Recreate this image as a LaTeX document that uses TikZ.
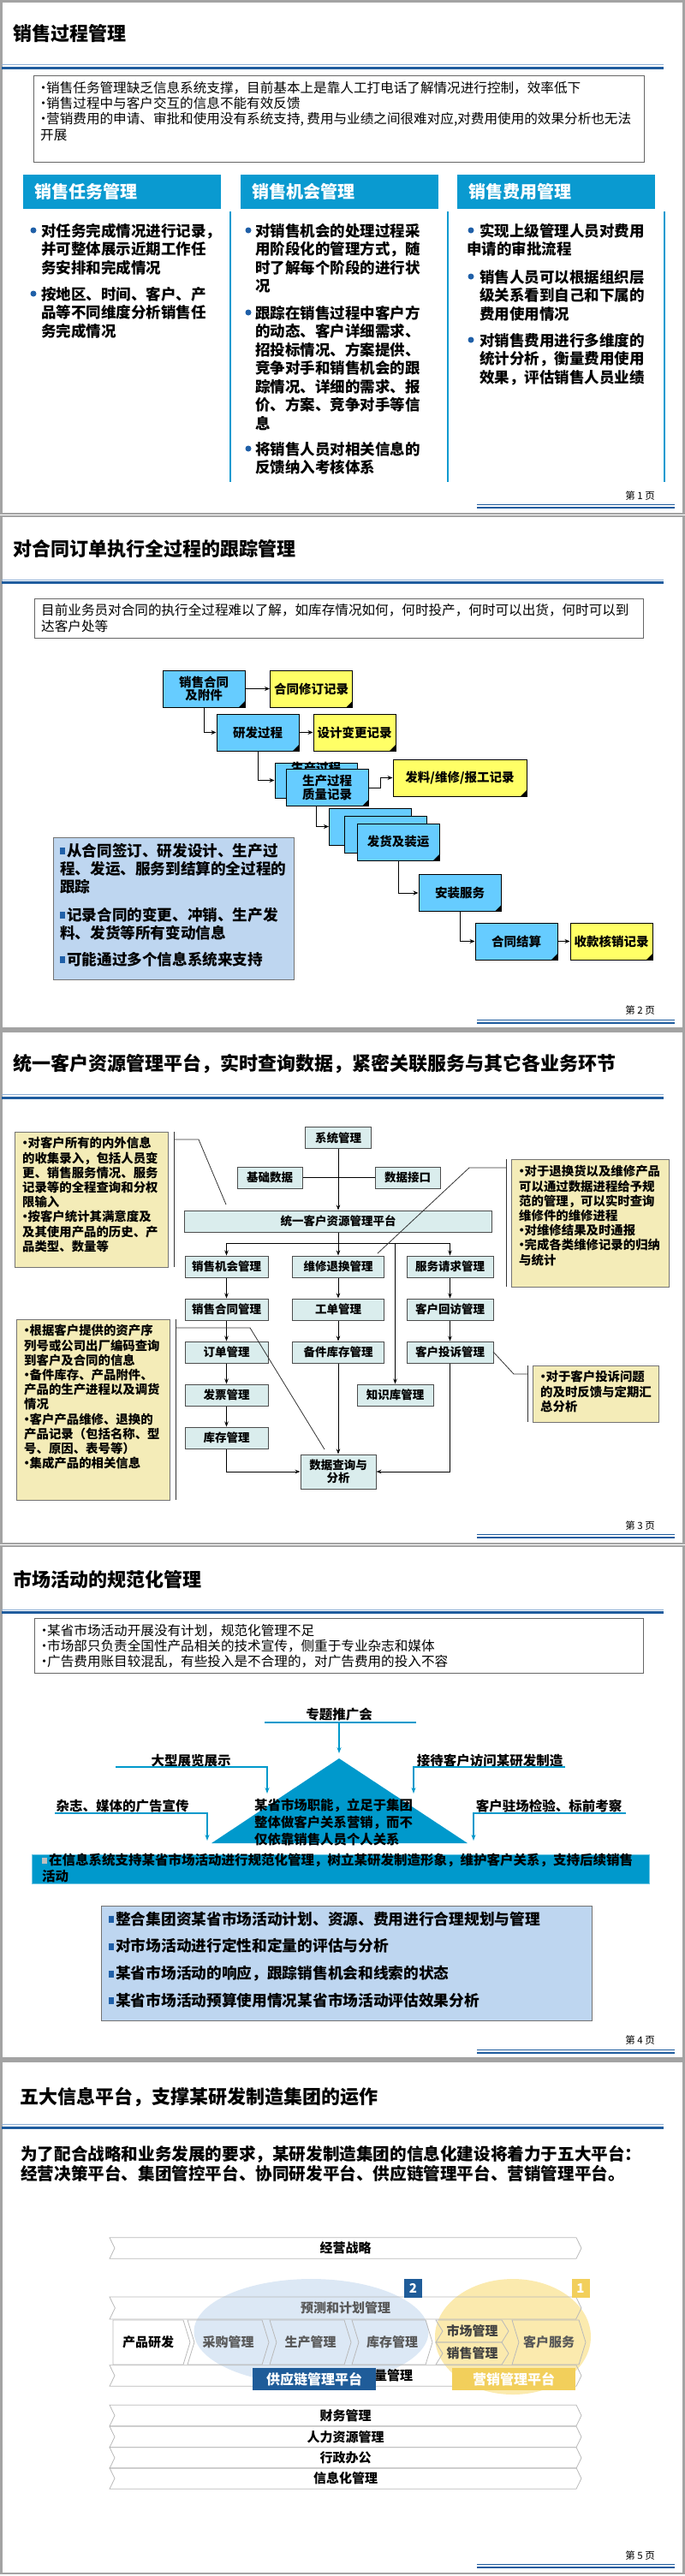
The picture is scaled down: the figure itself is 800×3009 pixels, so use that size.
\documentclass[tikz,border=0pt]{standalone}
\usepackage{fontspec}
\setmainfont{Noto Sans CJK SC}
\usetikzlibrary{arrows.meta, positioning, shapes.symbols}

\definecolor{framegray}{HTML}{A3A3A3}
\definecolor{ruleblue}{HTML}{1F5C9E}
\definecolor{rulelight}{HTML}{8FB0D6}
\definecolor{headblue}{HTML}{0A9AD0}
\definecolor{dotblue}{HTML}{2060A8}
\definecolor{flowblue}{HTML}{66CCFF}
\definecolor{flowyellow}{HTML}{FFFF66}
\definecolor{noteblue}{HTML}{BED6F0}
\definecolor{modteal}{HTML}{DAEDED}
\definecolor{callyellow}{HTML}{F4ECB8}
\definecolor{mktblue}{HTML}{0099CC}
\definecolor{scmblue}{HTML}{1F5C99}
\definecolor{mktyellow}{HTML}{F2CF5B}
\definecolor{ellblue}{HTML}{DCE8F5}
\definecolor{ellyellow}{HTML}{FBEAAE}

\newcommand{\bul}{\makebox[0.45em]{•}}
\newcommand{\sq}{{\color{dotblue}\rule[0.12em]{6pt}{8pt}}\hspace{2pt}}

\begin{document}
\begin{tikzpicture}[x=1pt, y=-1pt,
    slideframe/.style={draw=framegray, line width=2.5pt},
    title/.style={anchor=west, inner sep=0, font=\fontsize{22}{26}\selectfont\bfseries},
    pageno/.style={anchor=east, inner sep=0, font=\fontsize{11.5}{14}\selectfont},
    notebox/.style={draw=black!60, line width=1pt, fill=white},
    notetxt/.style={anchor=north west, align=left, inner sep=0, font=\fontsize{15.6}{18.4}\selectfont},
    cardhead/.style={anchor=north west, fill=headblue, text=white, minimum height=40pt, text width=205pt,
        inner xsep=13pt, inner ysep=0, align=left, font=\fontsize{20}{24}\selectfont\bfseries},
    cardtxt/.style={anchor=north west, align=left, inner sep=0, font=\fontsize{17.5}{21.5}\selectfont\bfseries},
    flowbox/.style={draw=black, line width=1pt, fill=flowblue, minimum width=96pt, minimum height=43pt,
        inner sep=1pt, align=center, font=\fontsize{14.5}{15.5}\selectfont\bfseries,
        path picture={\fill[black] (path picture bounding box.south east) ++(-7,0) -- ++(7,-7) -- ++(0,7) -- cycle;}},
    recbox/.style={flowbox, fill=flowyellow},
    arr/.style={-{Stealth[length=6pt, width=5pt]}, line width=1pt},
    infobox/.style={draw=black!55, line width=1pt, fill=noteblue},
    infotxt/.style={anchor=north west, align=left, inner sep=0, font=\fontsize{17.6}{21}\selectfont\bfseries},
    modbox/.style={draw=black!70, line width=1pt, fill=modteal, minimum height=25pt, inner sep=1pt,
        align=center, font=\fontsize{13.5}{15}\selectfont\bfseries},
    modarr/.style={-{Stealth[length=6pt, width=4.5pt]}, line width=0.8pt},
    callbox/.style={draw=black!55, line width=1pt, fill=callyellow},
    calltxt/.style={anchor=north west, align=left, inner sep=0, font=\fontsize{14.4}{17.2}\selectfont\bfseries},
    callline/.style={black!80, line width=0.8pt},
    mktlabel/.style={inner sep=0, font=\fontsize{15.5}{18}\selectfont\bfseries},
    mktarr/.style={draw=mktblue, line width=1.5pt, -{Stealth[length=7pt, width=5pt]}},
    band/.style={shape=signal, signal to=east, signal from=west, draw=gray!55, line width=0.8pt,
        minimum width=551pt, minimum height=24.5pt, inner sep=0, signal pointer angle=128,
        font=\fontsize{15}{16}\selectfont\bfseries},
    tag/.style={text=white, minimum width=21pt, minimum height=22pt, inner sep=0, font=\fontsize{15}{16}\selectfont\bfseries},
    plat/.style={text=white, minimum width=144pt, minimum height=26pt, inner sep=0, font=\fontsize{16}{18}\selectfont\bfseries}]

\useasboundingbox (0,0) rectangle (800,3009);

% frames, rules and page numbers of the five slides
\foreach \k in {0,...,4}{
  \begin{scope}[yshift={-\k*601.5pt}]
    \pgfmathtruncatemacro{\pg}{\k+1}
    \draw[slideframe] (1.5,1.5) rectangle (798.5,600);
    \draw[rulelight, line width=1pt] (2,75.8) -- (775,75.8);
    \draw[ruleblue, line width=2.8pt] (2,79.3) -- (775,79.3);
    \draw[ruleblue, line width=1pt] (557,589.5) -- (788,589.5);
    \draw[ruleblue, line width=2pt] (557,593) -- (788,593);
    \node[pageno] (page\pg) at (765,579) {第 \pg{} 页};
  \end{scope}
}

% slide 1
\node[title] (t1) at (15,39) {销售过程管理};
\draw[notebox] (39,88) rectangle (752,189);
\node[notetxt] (note1) at (47,94.7) {\bul 销售任务管理缺乏信息系统支撑，目前基本上是靠人工打电话了解情况进行控制，效率低下\\
  \bul 销售过程中与客户交互的信息不能有效反馈\\
  \bul 营销费用的申请、审批和使用没有系统支持, 费用与业绩之间很难对应,对费用使用的效果分析也无法\\
  开展};
\foreach \x/\name [count=\i] in {27/销售任务管理, 281/销售机会管理, 534/销售费用管理}{
  \node[cardhead] (head\i) at (\x,204) {\name};
  \draw[headblue, line width=1.5pt] (\x+242,247) -- (\x+242,563);
}
\foreach \x/\y in {39/269, 39/343, 290/269, 290/365, 290/524, 550/269, 550/323, 550/397}
  \fill[dotblue] (\x,\y) circle (3.5);
\node[cardtxt] (task1) at (48,261) {对任务完成情况进行记录，\\并可整体展示近期工作任\\务安排和完成情况};
\node[cardtxt] (task2) at (48,335) {按地区、时间、客户、产\\品等不同维度分析销售任\\务完成情况};
\node[cardtxt] (opp1) at (298,261) {对销售机会的处理过程采\\用阶段化的管理方式，随\\时了解每个阶段的进行状\\况};
\node[cardtxt] (opp2) at (298,357) {跟踪在销售过程中客户方\\的动态、客户详细需求、\\招投标情况、方案提供、\\竞争对手和销售机会的跟\\踪情况、详细的需求、报\\价、方案、竞争对手等信\\息};
\node[cardtxt] (opp3) at (298,516) {将销售人员对相关信息的\\反馈纳入考核体系};
\node[cardtxt] (cost1) at (545,261) {\hspace*{15pt}实现上级管理人员对费用\\申请的审批流程};
\node[cardtxt] (cost2) at (560,315) {销售人员可以根据组织层\\级关系看到自己和下属的\\费用使用情况};
\node[cardtxt] (cost3) at (560,389) {对销售费用进行多维度的\\统计分析，衡量费用使用\\效果，评估销售人员业绩};

% slide 2
\begin{scope}[yshift=-601.5pt]
  \node[title] (t2) at (15,40) {对合同订单执行全过程的跟踪管理};
  \draw[notebox] (40,97.5) rectangle (751,143.5);
  \node[notetxt] (note2) at (48,104) {目前业务员对合同的执行全过程难以了解，如库存情况如何，何时投产，何时可以出货，何时可以到\\达客户处等};
  \node[flowbox] (contract) at (238,203) {销售合同\\及附件};
  \node[recbox] (revrec) at (363.5,203) {合同修订记录};
  \node[flowbox] (rd) at (301,254) {研发过程};
  \node[recbox] (designrec) at (414,254) {设计变更记录};
  \node[flowbox, minimum height=41pt] (prodback) at (369,310) {\raisebox{9pt}[0pt][0pt]{生产过程}};
  \node[flowbox] (prodfront) at (382,318.5) {生产过程\\质量记录};
  \node[recbox, minimum width=156pt] (issuerec) at (537,307) {发料/维修/报工记录};
  \node[flowbox] (ship1) at (432.5,364) {};
  \node[flowbox] (ship2) at (450,373) {};
  \node[flowbox] (ship3) at (465,382) {发货及装运};
  \node[flowbox] (install) at (537,441.5) {安装服务};
  \node[flowbox] (settle) at (603,498) {合同结算};
  \node[recbox] (payrec) at (714,498) {收款核销记录};
  \draw[arr] (contract) -- (revrec);
  \draw[arr] (contract.south) |- (rd.west);
  \draw[arr] (rd) -- (designrec);
  \draw[arr] (rd.south) |- (prodback.west);
  \draw[arr] (prodfront.east) -- ++(14,0) |- (issuerec.west);
  \draw[arr] (prodback.south |- prodfront.south) |- (ship1.west);
  \draw[arr] (ship3.south) |- (install.west);
  \draw[arr] (install.south) |- (settle.west);
  \draw[arr] (settle) -- (payrec);
  \draw[infobox] (62,376.5) rectangle (343,542.5);
  \node[infotxt] (track) at (70,383.2) {\sq 从合同签订、研发设计、生产过\\程、发运、服务到结算的全过程的\\跟踪\\[12pt]
    \sq 记录合同的变更、冲销、生产发\\料、发货等所有变动信息\\[10pt]
    \sq 可能通过多个信息系统来支持};
\end{scope}

% slide 3
\begin{scope}[yshift=-1203pt]
  \node[title] (t3) at (15,39.5) {统一客户资源管理平台，实时查询数据，紧密关联服务与其它各业务环节};
  \node[modbox, minimum width=77pt] (sysmgmt) at (395,126) {系统管理};
  \node[modbox, minimum width=76pt] (basedata) at (315,172.5) {基础数据};
  \node[modbox, minimum width=76pt] (dataif) at (476,172.5) {数据接口};
  \node[modbox, minimum width=359pt] (platform) at (395,223.5) {统一客户资源管理平台};
  \foreach \n/\t [count=\r] in {salesopp/销售机会管理, salescon/销售合同管理, order/订单管理, invoice/发票管理, stock/库存管理}
    \node[modbox, minimum width=97pt] (\n) at (264.5,226.5+50*\r) {\t};
  \foreach \n/\t [count=\r] in {repair/维修退换管理, workorder/工单管理, spares/备件库存管理}
    \node[modbox, minimum width=107pt] (\n) at (395,226.5+50*\r) {\t};
  \foreach \n/\t [count=\r] in {servreq/服务请求管理, revisit/客户回访管理, complaint/客户投诉管理}
    \node[modbox, minimum width=101pt] (\n) at (525.5,226.5+50*\r) {\t};
  \node[modbox, minimum width=89pt] (knowledge) at (461.5,426.5) {知识库管理};
  \node[modbox, minimum width=88pt, minimum height=40pt] (query) at (395,516) {数据查询与\\分析};
  \coordinate (bus) at (395,249);
  \draw[line width=0.8pt] (basedata) -- (dataif);
  \draw[modarr] (sysmgmt) -- (platform);
  \draw[modarr] (platform) -- (repair);
  \draw[modarr] (bus) -| (salesopp);
  \draw[modarr] (bus) -| (servreq);
  \draw[modarr] (bus -| knowledge) -- (knowledge);
  \foreach \a/\b in {salesopp/salescon, salescon/order, order/invoice, invoice/stock, repair/workorder,
      workorder/spares, spares/query, servreq/revisit, revisit/complaint}
    \draw[modarr] (\a) -- (\b);
  \draw[modarr] (stock) |- (query);
  \draw[modarr] (complaint) |- (query);
  % callouts
  \draw[callbox] (17,119) rectangle (196,277);
  \node[calltxt] (callA) at (26,125.2) {\bul 对客户所有的内外信息\\的收集录入，包括人员变\\更、销售服务情况、服务\\记录等的全程查询和分权\\限输入\\
    \bul 按客户统计其满意度及\\及其使用产品的历史、产\\品类型、数量等};
  \draw[callline] (203,119) -- (203,277);
  \coordinate (tipA) at (264,204);
  \draw[callline] (203,128) -- (232,128) -- (tipA);
  \draw[callbox] (597,151) rectangle (781,300);
  \node[calltxt] (callB) at (606,158.2) {\bul 对于退换货以及维修产品\\可以通过数据进程给予规\\范的管理，可以实时查询\\维修件的维修进程\\
    \bul 对维修结果及时通报\\\bul 完成各类维修记录的归纳\\与统计};
  \draw[callline] (591,151) -- (591,300);
  \coordinate (tipB) at (441,261);
  \draw[callline] (591,161) -- (548,161) -- (tipB);
  \draw[callbox] (19,338) rectangle (198,549);
  \node[calltxt] (callC) at (28,344.2) {\bul 根据客户提供的资产序\\列号或公司出厂编码查询\\到客户及合同的信息\\
    \bul 备件库存、产品附件、\\产品的生产进程以及调货\\情况\\
    \bul 客户产品维修、退换的\\产品记录（包括名称、型\\号、原因、表号等）\\
    \bul 集成产品的相关信息};
  \draw[callline] (205,338) -- (205,549);
  \coordinate (tipC) at (379,490);
  \draw[callline] (205,348) -- (292,348) -- (tipC);
  \draw[callbox] (622,392) rectangle (769,458);
  \node[calltxt] (callD) at (631,398.2) {\bul 对于客户投诉问题\\的及时反馈与定期汇\\总分析};
  \draw[callline] (616,392) -- (616,458);
  \coordinate (tipD) at (576,376);
  \draw[callline] (616,402) -- (600,402) -- (tipD);
\end{scope}

% slide 4
\begin{scope}[yshift=-1804.5pt]
  \node[title] (t4) at (15,40.5) {市场活动的规范化管理};
  \draw[notebox] (40,85.5) rectangle (751,149.5);
  \node[notetxt] (note4) at (48,92.2) {\bul 某省市场活动开展没有计划，规范化管理不足\\
    \bul 市场部只负责全国性产品相关的技术宣传，侧重于专业杂志和媒体\\
    \bul 广告费用账目较混乱，有些投入是不合理的，对广告费用的投入不容};
  \coordinate (apex) at (396,249.5);
  \fill[mktblue] (apex) -- (546,348.5) -- (247,348.5) -- cycle;
  \node[cardtxt, font=\fontsize{15.4}{20}\selectfont\bfseries] (core) at (297,296.3) {某省市场职能，立足于集团\\整体做客户关系营销，而不\\仅依靠销售人员个人关系};
  \node[mktlabel] (topic) at (396,198.5) {专题推广会};
  \draw[mktblue, line width=1.5pt] (309,207.5) -- (486,207.5);
  \draw[mktarr] (396,207.5) -- (396,243.5);
  \node[mktlabel] (expo) at (223,252.5) {大型展览展示};
  \draw[mktarr] (135,259.5) -- (312,259.5) -- (312,290.5);
  \node[mktlabel] (visit) at (572,252.5) {接待客户访问某研发制造};
  \draw[mktarr] (660,259.5) -- (483,259.5) -- (483,290.5);
  \node[mktlabel] (media) at (143,305.5) {杂志、媒体的广告宣传};
  \draw[mktarr] (64,313.5) -- (242,313.5) -- (242,345.5);
  \node[mktlabel] (onsite) at (641,305.5) {客户驻场检验、标前考察};
  \draw[mktarr] (731,313.5) -- (553,313.5) -- (553,345.5);
  \draw[draw=mktblue!55, fill=mktblue, line width=1pt] (37,361.5) rectangle (758,395.5);
  \node[cardtxt, font=\fontsize{15.5}{19}\selectfont\bfseries] (goal) at (49,360.7) {{\color{gray!50}\rule[0.1em]{6pt}{7pt}}\hspace{2pt}在信息系统支持某省市场活动进行规范化管理，树立某研发制造形象，维护客户关系，支持后续销售\\活动};
  \draw[infobox] (118,421.5) rectangle (691,555.5);
  \node[infotxt, font=\fontsize{17.7}{31.7}\selectfont\bfseries] (plan4) at (127,428.2) {\sq 整合集团资某省市场活动计划、资源、费用进行合理规划与管理\\
    \sq 对市场活动进行定性和定量的评估与分析\\
    \sq 某省市场活动的响应，跟踪销售机会和线索的状态\\
    \sq 某省市场活动预算使用情况某省市场活动评估效果分析};
\end{scope}

% slide 5
\begin{scope}[yshift=-2406pt]
  \node[title] (t5) at (23,44) {五大信息平台，支撑某研发制造集团的运作};
  \node[cardtxt, font=\fontsize{19.6}{23}\selectfont\bfseries] (intro) at (24,99.8) {为了配合战略和业务发展的要求，某研发制造集团的信息化建设将着力于五大平台：\\经营决策平台、集团管控平台、协同研发平台、供应链管理平台、营销管理平台。};
  \fill[ellblue] (363.5,317.5) ellipse (137 and 61.5);
  \fill[ellyellow] (599,323.5) ellipse (91 and 67.5);
  \node[band] (strat) at (403.5,220) {经营战略};
  \node[band, minimum height=26pt, text=black!65] (plan) at (403.5,290) {预测和计划管理};
  \node[band] (quality) at (403.5,369) {\hspace{97pt}质量管理};
  \foreach \n/\t/\y in {finance/财务管理/415.5, hrm/人力资源管理/440.5, admin/行政办公/465, itmgmt/信息化管理/489}
    \node[band] (\n) at (403.5,\y) {\t};
  \node[band, signal from=nowhere, minimum width=90pt, minimum height=52pt, signal pointer angle=146] (rdp) at (173,330) {产品研发};
  \foreach \n/\t/\x/\w in {purch/采购管理/266.5/95, make/生产管理/362.5/95, inv/库存管理/458/94, csvc/客户服务/641/86}
    \node[band, minimum width=\w pt, minimum height=52pt, signal pointer angle=146, text=black!65] (\n) at (\x,330) {\t};
  \node[band, minimum width=85pt, minimum height=26pt, signal pointer angle=117, text=black!75] (mkt) at (551.5,317) {市场管理};
  \node[band, minimum width=85pt, minimum height=26pt, signal pointer angle=117, text=black!75] (sales) at (551.5,343) {销售管理};
  \node[tag, fill=scmblue] (tag2) at (482.5,267) {2};
  \node[tag, fill=mktyellow] (tag1) at (678,267) {1};
  \node[plat, fill=scmblue] (scm) at (367,373) {供应链管理平台};
  \node[plat, fill=mktyellow] (mktp) at (600,373) {营销管理平台};
\end{scope}
\end{tikzpicture}
\end{document}
